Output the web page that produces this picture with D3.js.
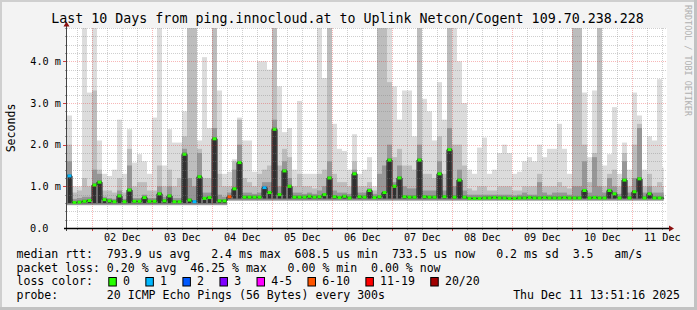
<!DOCTYPE html>
<html><head><meta charset="utf-8">
<script src="https://cdn.jsdelivr.net/npm/d3@7"></script>
<style>
html,body{margin:0;padding:0;background:#f3f3f3;}
svg{display:block;}
text{font-family:"DejaVu Sans Mono",monospace;}
</style>
</head><body>
<svg id="c" width="697" height="310"></svg>
<script>
// ---------------- data ----------------
const title = "Last 10 Days from ping.innocloud.at to Uplink Netcon/Cogent 109.70.238.228";
const startTime = "2025-12-01 13:51:16";
const endTime = "2025-12-11 13:51:16";
const lastDataTime = "2025-12-11 12:30:00";
const stepHours = 2;

// median rtt (ms) per 2-hour slot
const median = [
1.25,0.61,0.62,0.64,0.66,1.03,1.10,0.68,0.65,0.63,
0.77,0.63,0.91,0.64,0.64,0.73,0.64,0.64,0.82,0.65,
0.77,0.63,0.63,1.77,0.67,0.63,1.23,0.71,0.73,2.14,
0.65,0.65,0.75,0.94,1.57,0.74,0.74,0.74,0.74,0.97,
0.85,2.37,0.80,1.37,1.00,0.74,0.74,0.74,0.76,0.74,
0.75,0.80,1.20,0.75,0.73,0.76,0.72,1.30,0.75,0.74,
0.90,0.73,0.75,0.85,1.63,1.00,1.20,0.75,0.74,0.74,
1.63,0.75,0.74,0.74,1.30,0.75,1.88,0.74,1.15,0.74,
0.71,0.71,0.71,0.72,0.72,0.73,0.72,0.72,0.71,0.71,
0.72,0.72,0.73,0.72,0.72,0.73,0.72,0.72,0.72,0.73,
0.72,0.72,0.72,0.90,0.72,0.73,0.72,0.72,0.90,0.82,
0.72,1.15,0.72,0.87,1.18,0.72,0.82,0.72,0.72,0.72
];
// smoke: lowest ping (ms)
const smokeLow = [
0.55,0.55,0.55,0.55,0.55,0.55,0.55,0.55,0.55,0.55,
0.55,0.55,0.55,0.55,0.55,0.55,0.55,0.55,0.55,0.55,
0.55,0.55,0.55,0.55,0.55,0.55,0.55,0.55,0.55,0.55,
0.55,0.55,0.66,0.66,0.66,0.66,0.66,0.66,0.66,0.66,
0.66,0.66,0.66,0.66,0.66,0.66,0.66,0.66,0.66,0.66,
0.66,0.66,0.66,0.66,0.66,0.66,0.66,0.66,0.66,0.66,
0.66,0.66,0.66,0.66,0.66,0.66,0.66,0.66,0.66,0.66,
0.66,0.66,0.66,0.66,0.66,0.66,0.66,0.66,0.66,0.66,
0.66,0.66,0.66,0.66,0.66,0.66,0.66,0.66,0.66,0.66,
0.66,0.66,0.66,0.66,0.66,0.66,0.66,0.66,0.66,0.66,
0.66,0.66,0.66,0.66,0.66,0.66,0.66,0.66,0.66,0.66,
0.66,0.66,0.66,0.66,0.66,0.66,0.66,0.66,0.66,0.66
];
// smoke: top of dark band (ms)
const smokeDark = [
1.6,0.7,0.72,0.75,0.75,1.4,1.3,0.75,0.72,0.7,
0.9,0.7,1.5,0.72,0.72,0.8,0.72,0.72,1.0,0.75,
1.0,0.72,0.72,1.9,1.2,1.0,1.8,0.85,0.85,2.4,
0.8,0.75,0.85,1.4,2.0,0.85,0.85,0.82,0.85,1.1,
1.1,2.6,1.0,1.6,1.2,0.85,0.85,0.82,0.85,0.82,
0.9,1.0,1.6,0.9,0.85,0.85,0.82,1.4,0.85,0.85,
0.95,0.82,1.3,1.5,2.0,1.1,1.5,1.0,0.95,0.95,
2.0,0.9,0.9,0.9,1.6,0.9,2.4,1.0,1.4,0.9,
0.8,0.8,0.8,0.8,0.8,0.8,0.8,0.8,0.8,0.78,
0.8,0.85,0.8,0.8,1.1,0.85,0.8,0.85,0.85,0.85,
0.8,1.0,1.0,1.6,0.85,1.7,1.0,0.85,1.2,1.0,
0.82,1.6,0.85,1.2,2.4,0.85,1.0,0.85,0.85,0.85
];
// smoke: top of mid band (ms)
const smokeMid = [
2.0,0.85,0.9,1.2,1.0,3.3,1.4,0.9,0.9,0.85,
1.2,0.85,1.9,1.0,1.1,1.1,0.9,0.9,1.5,1.0,
1.4,1.0,1.2,2.2,4.8,4.8,1.9,1.2,1.2,4.8,
1.3,1.0,1.0,1.6,2.6,1.2,1.1,1.0,1.3,1.4,
1.5,4.8,1.5,1.9,1.7,1.0,1.3,1.0,1.0,0.95,
1.3,1.4,4.8,1.3,1.1,1.1,1.0,1.6,1.0,1.0,
1.1,0.9,4.8,4.8,3.5,1.7,1.9,1.5,1.5,1.4,
4.8,1.3,1.3,1.2,2.2,1.3,4.8,2.0,2.0,1.5,
0.95,0.9,1.0,1.0,0.9,0.9,1.0,1.0,1.0,0.9,
0.9,1.0,1.0,1.0,1.3,1.0,1.0,1.0,1.1,1.0,
0.95,4.8,4.8,2.0,1.1,1.8,4.8,1.0,1.3,1.4,
1.0,1.8,1.0,2.0,2.5,1.0,1.3,1.0,1.1,1.0
];
// smoke: highest ping (ms)
const smokeHigh = [
2.7,1.0,1.0,4.8,3.25,4.8,2.1,1.3,1.25,1.4,
2.6,1.3,2.37,1.57,1.77,1.6,1.3,2.65,4.8,1.5,
2.37,2.05,2.05,2.8,4.8,4.8,2.1,4.1,2.4,4.8,
3.3,1.3,1.35,1.65,2.65,2.1,2.1,1.35,4.0,4.0,
3.8,4.8,3.4,2.3,2.4,1.4,3.05,1.3,1.3,1.3,
4.8,3.6,4.8,2.5,1.9,1.85,1.4,2.25,1.3,1.4,
1.7,1.0,4.8,4.8,4.8,3.4,2.6,3.3,3.3,2.2,
4.8,3.1,2.8,2.1,3.5,2.6,4.8,4.8,4.0,3.0,
1.4,1.3,1.93,2.17,1.3,1.4,1.8,2.0,1.8,1.3,
1.35,1.6,1.7,1.6,2.0,1.7,1.9,1.9,2.5,1.9,
1.3,4.8,4.8,3.25,1.7,3.3,4.8,1.5,1.77,2.9,
1.3,2.05,1.4,3.25,2.7,1.4,2.2,2.1,3.57,1.45
];
// [slot, loss colour index] where loss was not zero
const lossEvents = [[0,1],[25,1],[32,5],[39,1]];
const lossLabels = ["0","1","2","3","4-5","6-10","11-19","20/20"];
const lossColors = ["#26ff00","#00b8ff","#0059ff","#7e00ff","#ff00ff","#ff5500","#ff0000","#a10000"];

const yTickValues = [0,1,2,3,4];
const yTickLabels = ["0.0","1.0 m","2.0 m","3.0 m","4.0 m"];
const xTickLabels = ["02 Dec","03 Dec","04 Dec","05 Dec","06 Dec","07 Dec","08 Dec","09 Dec","10 Dec","11 Dec"];

const legendRtt = "median rtt:  793.9 us avg   2.4 ms max  608.5 us min  733.5 us now   0.2 ms sd  3.5   am/s";
const legendLoss = "packet loss: 0.20 % avg  46.25 % max   0.00 % min  0.00 % now";
const legendColorTitle = "loss color:";
const legendProbe = "probe:       20 ICMP Echo Pings (56 Bytes) every 300s";
const stamp = "Thu Dec 11 13:51:16 2025";
const watermark = "RRDTOOL / TOBI OETIKER";
const yTitle = "Seconds";

// ---------------- drawing ----------------
const W = 697, H = 310;
const PL = 67, PR = 667, PT = 28, PB = 228;
const svg = d3.select("#c");

svg.append("rect").attr("width", W).attr("height", H).attr("fill", "#f3f3f3");
svg.append("rect").attr("x",0).attr("y",0).attr("width",W).attr("height",2).attr("fill","#cfcfcf");
svg.append("rect").attr("x",0).attr("y",0).attr("width",2).attr("height",H).attr("fill","#cfcfcf");
svg.append("rect").attr("x",0).attr("y",H-3).attr("width",W).attr("height",3).attr("fill","#c2c2c2");
svg.append("rect").attr("x",W-3).attr("y",0).attr("width",3).attr("height",H).attr("fill","#c2c2c2");

const parse = d3.timeParse("%Y-%m-%d %H:%M:%S");
const t0 = parse(startTime), t1 = parse(endTime);
const x = d3.scaleTime().domain([t0, t1]).range([PL, PR]);
const y = d3.scaleLinear().domain([0, 4.8]).range([PB, PT]);
const dataEndX = x(parse(lastDataTime));

svg.append("rect").attr("x", PL).attr("y", PT).attr("width", PR-PL).attr("height", PB-PT).attr("fill", "#ffffff");

svg.append("defs").append("clipPath").attr("id","cp")
  .append("rect").attr("x", PL).attr("y", PT).attr("width", PR-PL).attr("height", PB-PT);
const plot = svg.append("g").attr("clip-path","url(#cp)");

const lossMap = new Map(lossEvents.map(d => [d[0], d[1]]));
const slots = median.map((m, i) => {
  const a = d3.timeHour.offset(t0, i*stepHours), b = d3.timeHour.offset(t0, (i+1)*stepHours);
  return {i, m, lo: smokeLow[i], dk: smokeDark[i], md: smokeMid[i], hi: smokeHigh[i],
          loss: lossMap.has(i) ? lossMap.get(i) : 0,
          x0: x(a), x1: Math.min(x(b), dataEndX)};
});

const layers = [
  {key: "hi", color: "#dcdcdc"},
  {key: "md", color: "#bdbdbd"},
  {key: "dk", color: "#969696"}
];
layers.forEach(L => {
  plot.append("g").selectAll("rect").data(slots).join("rect")
    .attr("x", d => d.x0).attr("width", d => Math.max(0, d.x1 - d.x0))
    .attr("y", d => y(d[L.key])).attr("height", d => Math.max(0, y(d.lo) - y(d[L.key])))
    .attr("fill", L.color);
});
// darker smoke right around the median
plot.append("g").selectAll("rect").data(slots).join("rect")
  .attr("x", d => d.x0).attr("width", d => Math.max(0, d.x1 - d.x0))
  .attr("y", d => y(d.m + 0.04)).attr("height", d => Math.max(0, y(d.lo + 0.03) - y(d.m + 0.04)))
  .attr("fill", "#707070");
plot.append("g").selectAll("rect").data(slots).join("rect")
  .attr("x", d => (d.x0 + d.x1)/2 - 1.5).attr("width", 3)
  .attr("y", d => y(d.m)).attr("height", d => Math.max(0, y(d.lo + 0.05) - y(d.m)))
  .attr("fill", "#303030");

// grid (drawn over the smoke, as rrdtool does)
const grid = svg.append("g");
const minorY = y.ticks(24).filter(v => v > 0 && Math.abs(v - Math.round(v)) > 1e-6);
const minorCol = "rgba(128,128,128,0.38)", majorCol = "rgba(230,30,30,0.32)";
grid.selectAll(".hmin").data(minorY).join("line")
  .attr("x1", PL).attr("x2", PR)
  .attr("y1", d => Math.round(y(d)) + 0.5).attr("y2", d => Math.round(y(d)) + 0.5)
  .attr("stroke", minorCol).attr("stroke-dasharray", "1,1");
const majorY = yTickValues.filter(v => v > 0);
grid.selectAll(".hmaj").data(majorY).join("line")
  .attr("x1", PL).attr("x2", PR)
  .attr("y1", d => Math.round(y(d)) + 0.5).attr("y2", d => Math.round(y(d)) + 0.5)
  .attr("stroke", majorCol).attr("stroke-dasharray", "1,1");
const vt = d3.timeHour.every(6).range(t0, t1);
grid.selectAll(".v").data(vt).join("line")
  .attr("x1", d => Math.round(x(d)) + 0.5).attr("x2", d => Math.round(x(d)) + 0.5)
  .attr("y1", PT).attr("y2", PB)
  .attr("stroke", d => d.getHours() === 0 ? majorCol : minorCol)
  .attr("stroke-dasharray", "1,1");

// median line
const stepPts = slots.map(d => [d.x0, y(d.m)]);
stepPts.push([slots[slots.length-1].x1, y(slots[slots.length-1].m)]);
plot.append("path").attr("d", d3.line().curve(d3.curveStepAfter)(stepPts))
  .attr("fill", "none").attr("stroke", "#111").attr("stroke-width", 1);
plot.append("g").selectAll("line").data(slots).join("line")
  .attr("x1", d => d.x0 + 0.5).attr("x2", d => d.x1 - 0.5)
  .attr("y1", d => y(d.m)).attr("y2", d => y(d.m))
  .attr("stroke", d => lossColors[d.loss]).attr("stroke-width", 3);

// axes
const ax = svg.append("g");
ax.selectAll(".xt").data(vt).join("line")
  .attr("x1", d => Math.round(x(d)) + 0.5).attr("x2", d => Math.round(x(d)) + 0.5)
  .attr("y1", PB).attr("y2", d => d.getHours() === 0 ? PB + 3 : PB + 2)
  .attr("stroke", d => d.getHours() === 0 ? "#d04040" : "#999");
ax.selectAll(".ytm").data(minorY).join("line")
  .attr("x1", PL - 2).attr("x2", PL)
  .attr("y1", d => Math.round(y(d)) + 0.5).attr("y2", d => Math.round(y(d)) + 0.5)
  .attr("stroke", "#999");
ax.selectAll(".ytM").data(majorY).join("line")
  .attr("x1", PL - 4).attr("x2", PL)
  .attr("y1", d => Math.round(y(d)) + 0.5).attr("y2", d => Math.round(y(d)) + 0.5)
  .attr("stroke", "#d04040");
ax.append("line").attr("x1", PL - 0.5).attr("x2", PL - 0.5).attr("y1", PB + 3).attr("y2", PT - 3)
  .attr("stroke", "#444");
ax.append("line").attr("x1", PL - 3).attr("x2", PR + 4).attr("y1", PB + 0.5).attr("y2", PB + 0.5)
  .attr("stroke", "#000").attr("stroke-width", 1.3);
ax.append("path").attr("d", `M${PR+2},${PB-2.5}L${PR+7},${PB+0.5}L${PR+2},${PB+3.5}Z`).attr("fill", "#8b1010");
ax.append("path").attr("d", `M${PL-3.5},${PT-1.5}L${PL-0.5},${PT-6.5}L${PL+2.5},${PT-1.5}Z`).attr("fill", "#8b1010");

// y labels
ax.selectAll(".yl").data(yTickValues).join("text")
  .attr("x", (d, i) => yTickLabels[i].indexOf("m") >= 0 ? 61 : 61 - 12.5)
  .attr("y", d => y(d) + 3.5)
  .attr("text-anchor", "end").attr("font-size", "10.2px").attr("fill", "#000")
  .text((d, i) => yTickLabels[i]);

// x labels centred at noon
const pDay = d3.timeParse("%d %b %Y");
ax.selectAll(".xl").data(xTickLabels).join("text")
  .attr("x", d => x(d3.timeHour.offset(pDay(d + " 2025"), 12)))
  .attr("y", 241).attr("text-anchor", "middle").attr("font-size", "10.2px").attr("fill", "#000")
  .text(d => d);

// title
svg.append("text").attr("x", 347.5).attr("y", 23).attr("text-anchor", "middle")
  .attr("font-size", "13.3px").attr("fill", "#000").text(title);

// y title
svg.append("text").attr("transform", "translate(15,128) rotate(-90)").attr("text-anchor", "middle")
  .attr("font-size", "11.55px").attr("fill", "#000").text(yTitle);

// watermark
svg.append("text").attr("transform", "translate(685,5) rotate(90)").attr("text-anchor", "start")
  .attr("font-size", "8.4px").attr("fill", "#b0b0b0").text(watermark);

// legend
const lg = svg.append("g").attr("font-size", "11.55px").attr("fill", "#000");
const rows = [[legendRtt, 258], [legendLoss, 271.5], [legendColorTitle, 285], [legendProbe, 298.5]];
rows.forEach(r => lg.append("text").attr("x", 16.5).attr("y", r[1]).style("white-space", "pre").text(r[0]));
lg.append("text").attr("x", 680).attr("y", 298.5).attr("text-anchor", "end").text(stamp);

let sx = 108.3;
lossLabels.forEach((lbl, i) => {
  lg.append("rect").attr("x", sx + 0.5).attr("y", 277.5).attr("width", 7.5).attr("height", 8.5)
    .attr("fill", lossColors[i]).attr("stroke", "#000").attr("stroke-width", 1);
  const t = lg.append("text").attr("x", sx + 14.7).attr("y", 285).text(lbl);
  const w = t.node().getComputedTextLength();
  sx = sx + 14.7 + w + 15.4;
});
</script>
</body></html>
